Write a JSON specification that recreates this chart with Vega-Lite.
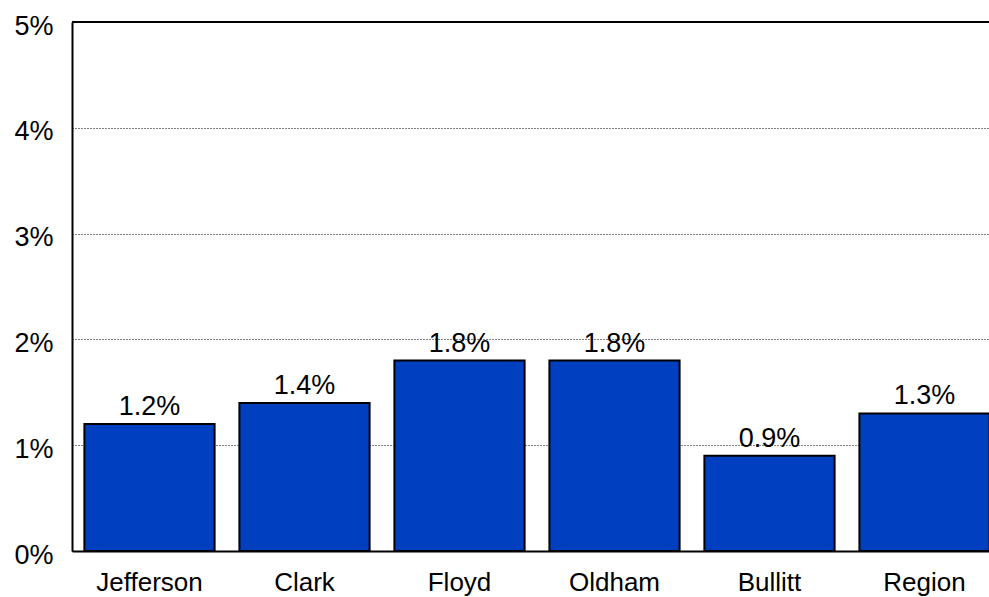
{
  "$schema": "https://vega.github.io/schema/vega-lite/v6.json",
  "autosize": {"type": "none"},
  "width": 917,
  "height": 529,
  "padding": {"left": 72, "top": 22, "right": 0, "bottom": 46},
  "background": "white",
  "config": {
    "view": {"stroke": null},
    "font": "Liberation Sans"
  },
  "data": {
    "values": [
      {"name": "Jefferson", "value": 0.012},
      {"name": "Clark", "value": 0.014},
      {"name": "Floyd", "value": 0.018},
      {"name": "Oldham", "value": 0.018},
      {"name": "Bullitt", "value": 0.009},
      {"name": "Region", "value": 0.013}
    ]
  },
  "encoding": {
    "x": {
      "field": "name", "type": "nominal", "sort": null,
      "scale": {"range": [0, 930], "paddingInner": 0.16, "paddingOuter": 0.08},
      "axis": {
        "title": null, "labelAngle": 0, "labelFontSize": 26, "labelColor": "#000",
        "labelPadding": 18, "ticks": false, "domainColor": "#000", "domainWidth": 2,
        "labelOverlap": false
      }
    },
    "y": {
      "field": "value", "type": "quantitative",
      "scale": {"domain": [0, 0.05], "nice": false},
      "axis": {
        "title": null, "format": ".0%", "values": [0, 0.01, 0.02, 0.03, 0.04, 0.05],
        "labelFontSize": 27, "labelColor": "#000", "labelPadding": 19, "ticks": false,
        "domainColor": "#000", "domainWidth": 2, "labelOverlap": false, "labelFlush": false,
        "grid": true, "gridColor": "#000", "gridDash": [1, 2], "gridWidth": 1,
        "labelBaseline": "middle", "labelOffset": 4
      }
    }
  },
  "layer": [
    {
      "mark": {"type": "bar", "fill": "#0040C0", "stroke": "#000", "strokeWidth": 2}
    },
    {
      "mark": {"type": "text", "fontSize": 27, "baseline": "alphabetic", "dy": -9, "color": "#000"},
      "encoding": {"text": {"field": "value", "type": "quantitative", "format": ".1%"}}
    },
    {
      "data": {"values": [{"top": 0.05}]},
      "mark": {"type": "rule", "color": "#000", "strokeWidth": 2},
      "encoding": {"y": {"field": "top", "type": "quantitative"}, "x": null}
    }
  ]
}
